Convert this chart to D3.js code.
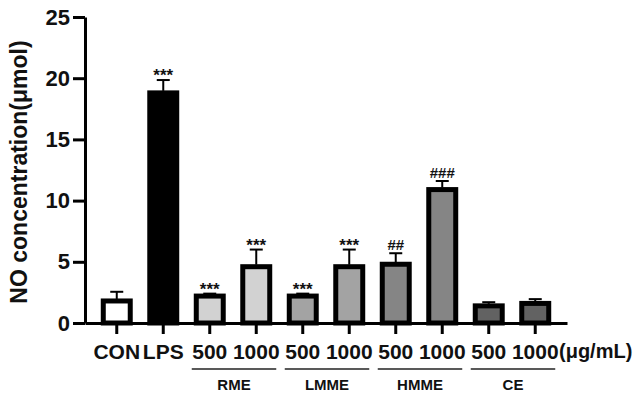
<!DOCTYPE html>
<html>
<head>
<meta charset="utf-8">
<script src="https://cdn.jsdelivr.net/npm/d3@7"></script>
<style>
  body { margin: 0; background: #fff; }
  svg { display: block; font-family: "Liberation Sans", Arial, sans-serif; }
</style>
</head>
<body>
<svg id="chart" width="644" height="397"></svg>
<script>
// NO concentration bar chart (GraphPad style)

const barIds = ["CON", "LPS", "RME-500", "RME-1000", "LMME-500", "LMME-1000",
                "HMME-500", "HMME-1000", "CE-500", "CE-1000"];
const tickLabels = ["CON", "LPS", "500", "1000", "500", "1000", "500", "1000", "500", "1000"];
const means = [1.8, 18.8, 2.2, 4.6, 2.2, 4.6, 4.8, 10.9, 1.4, 1.6];
const errTops = [2.55, 19.85, 2.4, 6.0, 2.4, 6.0, 5.7, 11.6, 1.7, 1.95];
const marks = ["", "***", "***", "***", "***", "***", "##", "###", "", ""];
const fills = ["#ffffff", "#000000", "#d2d2d2", "#d2d2d2", "#a3a3a3", "#a3a3a3",
               "#858585", "#858585", "#626262", "#626262"];
const groups = [
    { name: "RME", bars: ["RME-500", "RME-1000"] },
    { name: "LMME", bars: ["LMME-500", "LMME-1000"] },
    { name: "HMME", bars: ["HMME-500", "HMME-1000"] },
    { name: "CE", bars: ["CE-500", "CE-1000"] }
];
const yTicks = [0, 5, 10, 15, 20, 25];

const svg = d3.select("#chart");

const x = d3.scaleBand()
    .domain(barIds)
    .range([85, 567])
    .paddingInner(0.42)
    .paddingOuter(0.393);

const y = d3.scaleLinear()
    .domain([0, 25])
    .range([323, 17]);

const bars = barIds.map((id, i) => ({
    id, mean: means[i], err: errTops[i], mark: marks[i], fill: fills[i]
}));

// Bars
svg.append("g").selectAll("rect")
    .data(bars)
    .join("rect")
    .attr("x", d => x(d.id))
    .attr("y", d => y(d.mean))
    .attr("width", x.bandwidth())
    .attr("height", d => y(0) - y(d.mean))
    .attr("fill", d => d.fill)
    .attr("stroke", "#000")
    .attr("stroke-width", 5);

// Error bars (upper only)
const eb = svg.append("g").attr("stroke", "#000").attr("stroke-width", 2);
bars.forEach(d => {
    const cx = x(d.id) + x.bandwidth() / 2;
    eb.append("line")
        .attr("x1", cx).attr("x2", cx)
        .attr("y1", y(d.mean) - 2).attr("y2", y(d.err));
    eb.append("line")
        .attr("x1", cx - 6.5).attr("x2", cx + 6.5)
        .attr("y1", y(d.err)).attr("y2", y(d.err));
});

// Significance marks
svg.append("g").selectAll("text")
    .data(bars.filter(d => d.mark))
    .join("text")
    .attr("x", d => x(d.id) + x.bandwidth() / 2)
    .attr("y", d => d.mark.startsWith("*") ? y(d.err) + 1 : y(d.err) - 3)
    .attr("text-anchor", "middle")
    .attr("font-size", d => d.mark.startsWith("*") ? "17px" : "15px")
    .attr("font-weight", "bold")
    .attr("fill", "#111")
    .text(d => d.mark);

// Y axis
const yAxis = svg.append("g")
    .attr("transform", "translate(85,0)")
    .call(d3.axisLeft(y).tickValues(yTicks).tickSize(12).tickPadding(3).tickSizeOuter(0));
yAxis.select(".domain").attr("stroke-width", 3);
yAxis.selectAll(".tick line").attr("stroke-width", 3);
yAxis.selectAll(".tick text")
    .attr("font-size", "22px")
    .attr("font-weight", "bold")
    .attr("fill", "#111");

// X axis
const xAxis = svg.append("g")
    .attr("transform", "translate(0,323)")
    .call(d3.axisBottom(x).tickSize(11).tickPadding(10).tickSizeOuter(0)
        .tickFormat((d, i) => tickLabels[i]));
xAxis.select(".domain").attr("stroke-width", 3);
xAxis.selectAll(".tick line").attr("stroke-width", 3);
xAxis.selectAll(".tick text")
    .attr("font-size", "21px")
    .attr("font-weight", "bold")
    .attr("fill", "#111");

// unit label after last tick
svg.append("text")
    .attr("x", 559)
    .attr("y", 358)
    .attr("font-size", "20px")
    .attr("font-weight", "bold")
    .attr("fill", "#111")
    .text("(μg/mL)");

// Group brackets
const gg = svg.append("g");
groups.forEach(g => {
    const x0 = x(g.bars[0]) + x.bandwidth() / 2 - 18;
    const x1 = x(g.bars[1]) + x.bandwidth() / 2 + 20;
    gg.append("line")
        .attr("x1", x0).attr("x2", x1)
        .attr("y1", 369).attr("y2", 369)
        .attr("stroke", "#222")
        .attr("stroke-width", 1.5);
    gg.append("text")
        .attr("x", (x0 + x1) / 2)
        .attr("y", 390)
        .attr("text-anchor", "middle")
        .attr("font-size", "15px")
        .attr("font-weight", "bold")
        .attr("fill", "#111")
        .text(g.name);
});

// Y title
svg.append("text")
    .attr("transform", "translate(27,172) rotate(-90)")
    .attr("text-anchor", "middle")
    .attr("font-size", "23px")
    .attr("font-weight", "bold")
    .attr("fill", "#111")
    .text("NO concentration(μmol)");
</script>
</body>
</html>
